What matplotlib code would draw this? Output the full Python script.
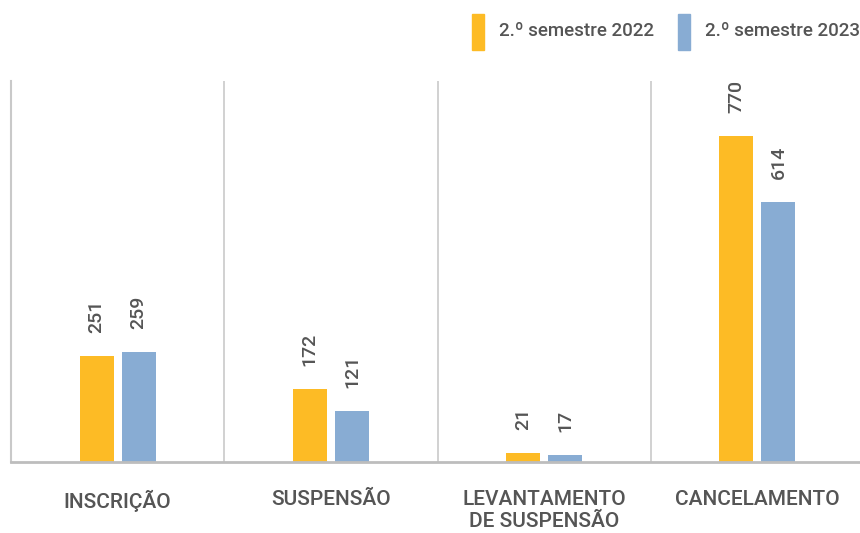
import numpy as np
import matplotlib.pyplot as plt
from matplotlib.patches import Rectangle

categorias = ['INSCRIÇÃO', 'SUSPENSÃO', 'LEVANTAMENTO\nDE SUSPENSÃO', 'CANCELAMENTO']
series = ['2.º semestre 2022', '2.º semestre 2023']
valores_2022 = [251, 172, 21, 770]
valores_2023 = [259, 121, 17, 614]

cores = ['#FDBB25', '#88ACD3']
cinza_txt = '#555555'
cinza_linha = '#C9C9C9'

plt.rcParams['font.family'] = ['Roboto', 'DejaVu Sans']
plt.rcParams['font.weight'] = 'medium'

fig = plt.figure(figsize=(8.6, 5.33), dpi=100)
ax = fig.add_axes([11/860, 71/533, 853/860, 381/533])

x = np.arange(len(categorias))
largura = 0.16
desvio = 0.0986

for i, (vals, cor) in enumerate(zip([valores_2022, valores_2023], cores)):
    pos = x + (desvio if i else -desvio)
    barras = ax.bar(pos, vals, width=largura, color=cor, zorder=2)
    for b, v in zip(barras, vals):
        ax.annotate(str(v), (b.get_x() + b.get_width()/2, v),
                    xytext=(0, 16.5), textcoords='offset points',
                    rotation=90, ha='center', va='bottom',
                    fontsize=14, color=cinza_txt)

ax.set_xlim(-0.5, len(categorias) - 0.5)
ax.set_ylim(0, 900)

# separadores verticais entre categorias
for s in np.arange(0.5, len(categorias) - 0.5, 1):
    ax.axvline(s, color=cinza_linha, lw=1.2, zorder=1)

for lado in ['top', 'right']:
    ax.spines[lado].set_visible(False)
ax.spines['left'].set_color(cinza_linha)
ax.spines['left'].set_linewidth(1.5)
ax.spines['bottom'].set_color('#BDBDBD')
ax.spines['bottom'].set_linewidth(2)

ax.set_yticks([])
ax.set_xticks(x)
ax.set_xticklabels(categorias, fontsize=15, color=cinza_txt, linespacing=1.2)
ax.tick_params(axis='x', length=0, pad=20)

# legenda
leg_x = [472/860, 678/860]
for lx, cor, nome in zip(leg_x, cores, series):
    fig.patches.append(Rectangle((lx, 1 - 50/533), 12/860, 36/533,
                                 transform=fig.transFigure, color=cor))
    fig.text(lx + 27/860, 1 - 31/533, nome, fontsize=13.5, color=cinza_txt,
             va='center', ha='left')

fig.savefig('out.png', dpi=100)
